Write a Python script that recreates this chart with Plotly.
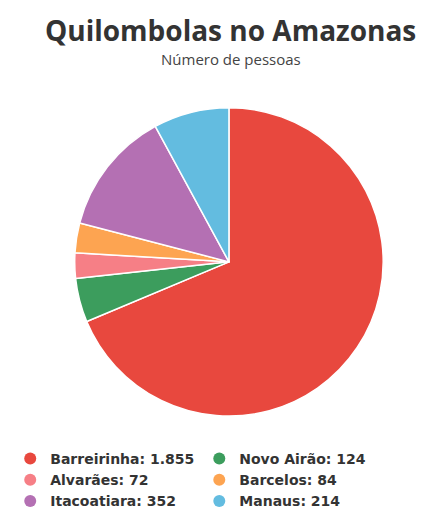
import plotly.graph_objects as go

categories = ["Barreirinha", "Novo Airão", "Alvarães", "Barcelos", "Itacoatiara", "Manaus"]
values = [1855, 124, 72, 84, 352, 214]
colors = ["#E8483E", "#3C9D5D", "#F67F86", "#FDA451", "#B470B3", "#63BCE0"]
title_text = "Quilombolas no Amazonas"
subtitle_text = "Número de pessoas"

def fmt(v):
    return f"{v:,}".replace(",", ".")

legend_labels = [f"{c}: {fmt(v)}" for c, v in zip(categories, values)]

fig = go.Figure()
fig.add_trace(go.Pie(
    labels=legend_labels,
    values=values,
    marker=dict(colors=colors, line=dict(color="white", width=1.5)),
    sort=False,
    direction="clockwise",
    rotation=0,
    textinfo="none",
    showlegend=False,
    domain=dict(x=[0.127, 0.866], y=[0.148, 0.792]),
    hovertemplate="%{label}<extra></extra>",
))

for lab, col in zip(legend_labels, colors):
    fig.add_trace(go.Scatter(
        x=[None], y=[None], mode="markers", name=lab,
        marker=dict(color=col, size=15, symbol="circle"),
        showlegend=True, hoverinfo="skip",
    ))

H = 509
fig.update_layout(
    width=445, height=H,
    margin=dict(l=0, r=0, t=0, b=0),
    paper_bgcolor="white", plot_bgcolor="white",
    xaxis=dict(visible=False), yaxis=dict(visible=False),
    annotations=[
        dict(text=f"<b>{title_text}</b>", x=0.5, y=1 - 23 / H, xref="paper", yref="paper",
             showarrow=False, xanchor="center", yanchor="middle",
             font=dict(family="Open Sans", size=28, color="#333")),
        dict(text=subtitle_text, x=0.5, y=1 - 54 / H, xref="paper", yref="paper",
             showarrow=False, xanchor="center", yanchor="middle",
             font=dict(family="Open Sans", size=15, color="#444")),
    ],
    legend=dict(
        orientation="h", x=0.005, xanchor="left", y=0.092, yanchor="top",
        font=dict(family="DejaVu Sans", size=14, color="#333", weight="bold"),
        itemsizing="constant", traceorder="normal",
    ),
)

fig.write_html("out.html")
